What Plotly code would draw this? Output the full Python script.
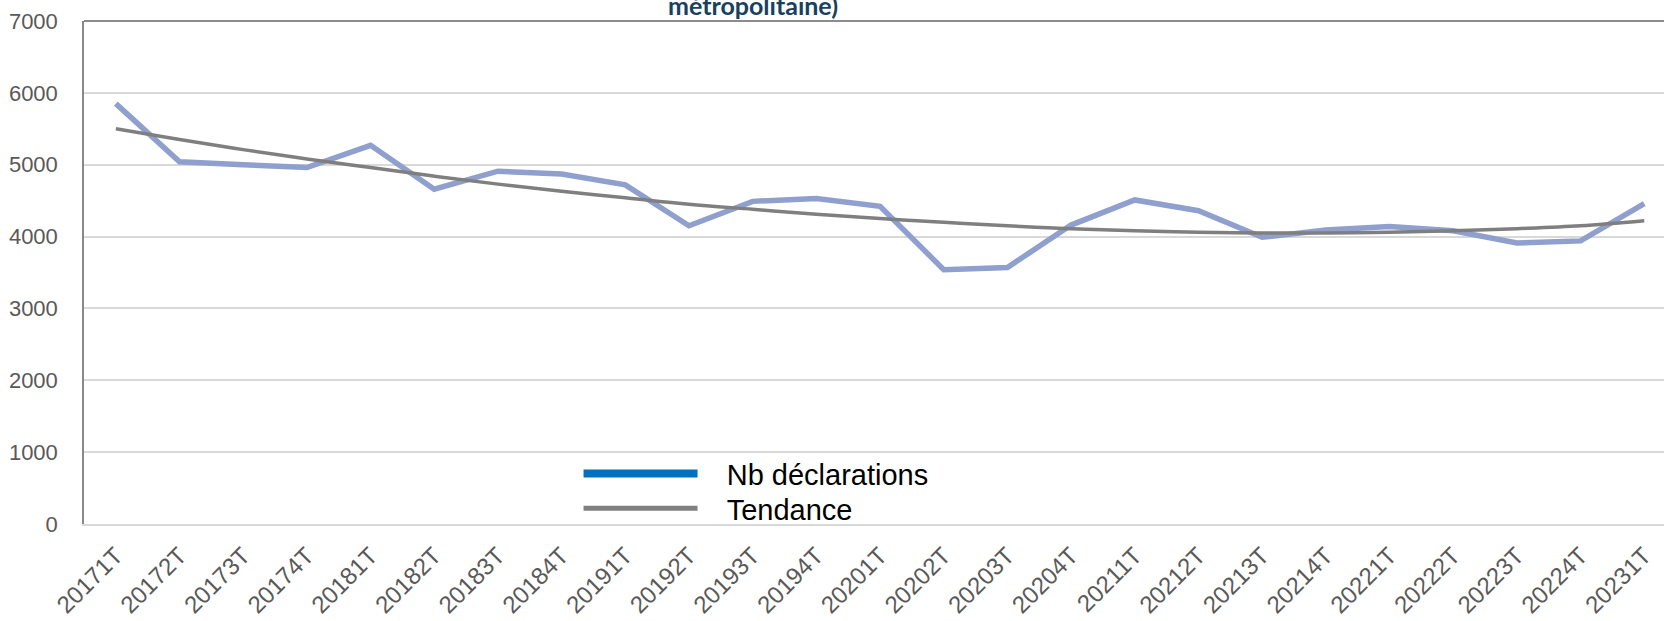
import plotly.graph_objects as go

# trimestres
trimestres = ["20171T", "20172T", "20173T", "20174T",
              "20181T", "20182T", "20183T", "20184T",
              "20191T", "20192T", "20193T", "20194T",
              "20201T", "20202T", "20203T", "20204T",
              "20211T", "20212T", "20213T", "20214T",
              "20221T", "20222T", "20223T", "20224T",
              "20231T"]

# nombre de declarations
nb_declarations = [5850, 5040, 5000, 4960,
                   5270, 4660, 4910, 4870,
                   4720, 4150, 4490, 4530,
                   4420, 3540, 3570, 4160,
                   4510, 4360, 3990, 4090,
                   4140, 4080, 3910, 3940,
                   4460]

# courbe de tendance (polynomiale)
tendance = [5500, 5350, 5210, 5080,
            4960, 4840, 4730, 4630,
            4540, 4450, 4380, 4310,
            4250, 4200, 4150, 4110,
            4080, 4060, 4050, 4050,
            4060, 4080, 4110, 4150,
            4220]

y_ticks = [0, 1000, 2000, 3000, 4000, 5000, 6000, 7000]

fig = go.Figure()
fig.add_scatter(x=trimestres, y=nb_declarations, mode="lines", showlegend=False,
                line=dict(color="#8FA0CE", width=5.5))
fig.add_scatter(x=trimestres, y=tendance, mode="lines", showlegend=False,
                line=dict(color="#7F7F7F", width=3.5, shape="spline"))

# entrees de legende (une legende par entree pour regler l'espacement)
fig.add_scatter(x=[None], y=[None], mode="lines", name="\u00a0\u00a0\u00a0Nb déclarations",
                line=dict(color="#0070C0", width=8), legend="legend")
fig.add_scatter(x=[None], y=[None], mode="lines", name="\u00a0\u00a0\u00a0Tendance",
                line=dict(color="#808080", width=5), legend="legend2")

leg = dict(xanchor="left", yanchor="middle", font=dict(size=29, color="#000000"),
           bgcolor="rgba(0,0,0,0)", itemwidth=114)

fig.update_layout(
    width=1664, height=621,
    margin=dict(l=84, r=0, t=21, b=97),
    paper_bgcolor="white", plot_bgcolor="white",
    font=dict(family="Liberation Sans, Arial, sans-serif", color="#595959"),
    legend=dict(x=0.313, y=0.100, **leg),
    legend2=dict(x=0.313, y=0.031, **leg),
    annotations=[dict(text="<b>métropolitaine)</b>", xref="paper", yref="paper",
                      x=0.4237, y=1, yshift=-1, xanchor="center", yanchor="bottom",
                      showarrow=False,
                      font=dict(family="Lato, sans-serif", size=25, color="#17415F"))],
    shapes=[dict(type="line", xref="paper", yref="paper", x0=0, x1=1, y0=1, y1=1,
                 line=dict(color="#8C8C8C", width=2))],
)

fig.update_xaxes(type="category", range=[-0.5, 24.31], tickangle=-45,
                 tickfont=dict(size=24, color="#595959"), automargin=False,
                 showgrid=False, showline=True, linecolor="#D9D9D9", linewidth=2,
                 ticks="", ticklabelstandoff=6)
fig.update_yaxes(range=[0, 7000], tickvals=y_ticks, automargin=False,
                 tickfont=dict(size=22, color="#595959"),
                 showgrid=True, gridcolor="#D9D9D9", gridwidth=1.5,
                 zeroline=False, showline=True, linecolor="#898989", linewidth=1.5,
                 ticks="", ticklabelstandoff=20)

fig.write_html("out.html", config={"displayModeBar": False},
               post_script="document.body.style.margin = '0';")
